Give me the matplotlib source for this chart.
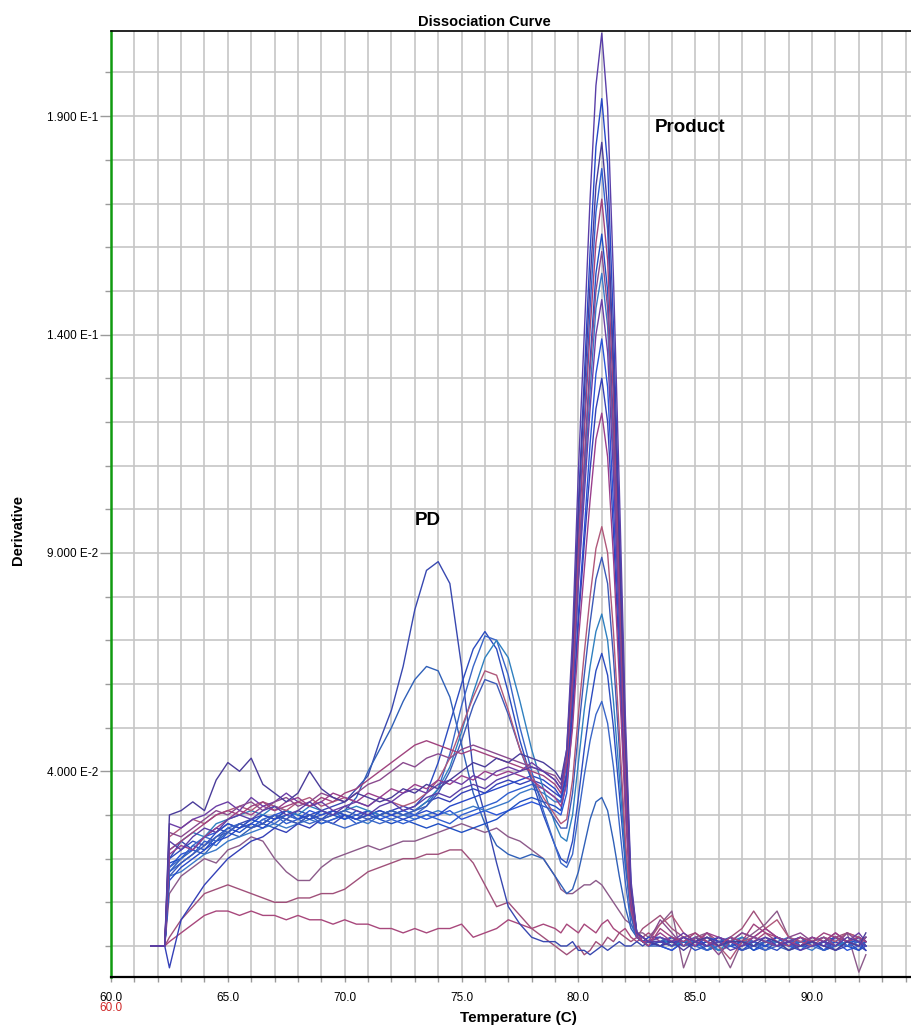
import numpy as np
import matplotlib
matplotlib.use('Agg')
import matplotlib.pyplot as plt
from matplotlib.ticker import FixedLocator, FuncFormatter

plt.rcParams['font.family'] = ['Liberation Sans', 'DejaVu Sans']

# temperature sampling (C): coarse on the shoulders, finer across the melt peak
temps = np.concatenate([[61.7, 62.3],
                        np.arange(62.5, 79.01, 0.5),
                        np.arange(79.25, 83.01, 0.25),
                        np.arange(83.5, 92.01, 0.5),
                        [92.3]])

# derivative readings in units of 1e-3, one list per well
m1 = [0, 0,
      24, 22, 25, 27, 26, 29, 30, 29, 31, 32, 30, 31, 33, 31, 30, 32, 31, 30, 32, 33,
      31, 32, 34, 35, 34, 36, 37, 36, 38, 39, 40, 41, 40, 38,
      36, 45, 71, 109, 140, 171, 197, 209, 192, 153, 105, 54, 15, 3, 2, 1,
      1, 0, 2, 1, 0, 1, -1, 0, 1, 2, 0, 1, -1, 0, 1, 0, 2, 1, 0]
m2 = [0, 0,
      15, 18, 20, 22, 24, 25, 27, 28, 27, 29, 30, 29, 30, 29, 31, 30, 29, 30, 31, 30,
      29, 30, 31, 30, 32, 33, 34, 35, 36, 37, 38, 39, 38, 36,
      34, 42, 66, 101, 130, 159, 183, 194, 179, 142, 97, 50, 14, 3, 1, 2,
      2, 1, 1, 0, 2, 1, 0, -1, 1, 0, 2, 1, 0, 1, -1, 1, 0, 2, 1]
m3 = [0, 0,
      30, 31, 33, 31, 38, 42, 40, 43, 37, 35, 33, 35, 40, 36, 34, 33, 35, 34, 33, 34,
      36, 35, 37, 36, 38, 40, 42, 41, 43, 42, 44, 43, 42, 40,
      38, 45, 67, 99, 126, 152, 174, 184, 169, 134, 92, 48, 13, 3, 2, 1,
      0, 1, -1, 1, 2, 0, 1, 1, 0, 2, 1, -1, 0, 1, 0, -1, 1, 0, 3]
m4 = [0, 0,
      17, 19, 21, 24, 23, 26, 28, 27, 29, 30, 28, 29, 30, 28, 29, 30, 28, 29, 30, 29,
      28, 29, 30, 29, 28, 30, 31, 32, 33, 35, 36, 37, 36, 34,
      33, 40, 62, 94, 120, 146, 168, 178, 164, 130, 89, 46, 12, 2, 1, 1,
      1, 2, 0, 1, -1, 0, 2, 1, 0, 1, 2, 0, 1, 1, -1, 0, 1, 2, 0]
m5 = [0, 0,
      22, 24, 26, 28, 30, 31, 30, 32, 33, 31, 32, 33, 32, 34, 33, 35, 36, 38, 40, 42,
      44, 46, 47, 46, 45, 44, 45, 44, 43, 42, 41, 40, 39, 37,
      35, 42, 62, 92, 117, 141, 161, 171, 157, 125, 86, 44, 12, 3, 1, 0,
      4, 2, 1, 3, 1, 0, 2, 1, 5, 3, 1, 0, 2, 1, 3, 2, 1, 2, 1]
m6 = [0, 0,
      19, 20, 23, 22, 25, 27, 26, 28, 30, 29, 31, 30, 29, 31, 30, 29, 31, 30, 29, 28,
      29, 28, 27, 28, 27, 26, 27, 28, 29, 31, 33, 34, 33, 32,
      31, 38, 57, 86, 110, 134, 154, 163, 150, 119, 82, 42, 11, 2, 1, 1,
      0, 2, 1, 0, 1, 2, 0, 1, -1, 1, 0, 2, 1, 0, 1, 2, 0, -1, 1]
m7 = [0, 0,
      26, 25, 27, 29, 31, 30, 32, 33, 31, 33, 34, 32, 33, 35, 34, 33, 35, 37, 38, 40,
      42, 41, 43, 44, 43, 45, 46, 45, 44, 43, 42, 41, 40, 39,
      37, 43, 61, 88, 110, 132, 150, 159, 146, 116, 80, 41, 11, 3, 2, 1,
      6, 3, 0, 2, 1, -2, 1, 3, 2, 1, 0, 2, 3, 1, 2, 0, 3, 1, 2]
m8 = [0, 0,
      16, 17, 19, 21, 22, 24, 25, 26, 27, 28, 27, 28, 29, 28, 29, 30, 29, 28, 30, 31,
      30, 29, 30, 31, 30, 31, 32, 31, 32, 33, 35, 36, 35, 33,
      33, 39, 57, 84, 106, 127, 146, 154, 142, 112, 77, 40, 11, 2, 1, 0,
      1, 0, 1, 2, 1, -1, 0, 1, 1, 0, 1, 2, 0, -1, 1, 0, 1, 1, 2]
m9 = [0, 0,
      28, 27, 29, 30, 32, 33, 31, 34, 32, 33, 35, 33, 32, 33, 31, 32, 33, 32, 34, 33,
      35, 36, 35, 37, 38, 37, 39, 38, 40, 41, 40, 42, 40, 38,
      36, 42, 58, 83, 103, 123, 140, 148, 136, 108, 74, 38, 10, 3, 2, 1,
      2, 1, 3, 1, 0, 2, 1, 3, 2, 1, 0, 1, 2, 1, 0, 2, 1, 3, 1]
m10 = [0, 0,
       18, 21, 22, 25, 26, 28, 27, 29, 28, 30, 31, 29, 31, 30, 31, 29, 30, 31, 29, 30,
       31, 30, 29, 30, 31, 29, 30, 31, 30, 31, 32, 33, 32, 31,
       30, 35, 52, 76, 95, 115, 131, 139, 128, 101, 70, 36, 10, 2, 1, 1,
       0, -1, 1, 0, 2, 1, 0, 1, -1, 0, 1, 0, -1, 1, 0, 1, -1, 0, 1]
m11 = [0, 0,
       -5, 6, 10, 14, 17, 20, 22, 24, 25, 27, 26, 28, 27, 29, 28, 30, 29, 31, 30, 31,
       32, 31, 33, 34, 33, 35, 36, 35, 37, 38, 37, 38, 37, 35,
       34, 39, 53, 74, 92, 109, 123, 130, 120, 95, 65, 34, 9, 2, 1, 0,
       1, 1, 0, 2, 0, 1, 1, -1, 0, 1, 2, 1, 0, 0, 1, -1, 0, 1, -1]
m12 = [0, 0,
       21, 23, 22, 25, 27, 29, 31, 30, 32, 31, 33, 34, 32, 33, 35, 34, 33, 35, 34, 36,
       35, 37, 36, 38, 37, 39, 38, 40, 39, 40, 39, 38, 36, 34,
       32, 37, 50, 70, 86, 102, 116, 122, 112, 89, 61, 32, 9, 2, 1, 1,
       3, 1, 2, 0, 3, 2, 1, 0, 2, 4, 2, 1, 0, 2, 1, 3, 1, 0, 2]

# wells with a primer-dimer shoulder near 76 C
pd76a = [0, 0,
         20, 22, 24, 23, 26, 28, 27, 29, 30, 29, 31, 30, 29, 30, 31, 30, 29, 30, 31, 30, 31,
         32, 35, 42, 51, 60, 68, 72, 68, 58, 47, 38, 30, 23,
         20, 19, 24, 34, 45, 55, 63, 67, 62, 50, 35, 19, 7, 2, 1, 1,
         1, 0, 1, -1, 0, 2, 1, 0, 1, 0, -1, 1, 0, 2, 1, 0, 1, -1, 0]
pd76b = [0, 0,
         18, 20, 23, 25, 24, 27, 28, 27, 29, 28, 30, 29, 28, 29, 28, 27, 28, 29, 28, 29, 30,
         30, 32, 36, 44, 55, 64, 71, 70, 62, 50, 40, 31, 23,
         19, 18, 21, 30, 39, 47, 53, 56, 51, 41, 28, 15, 5, 2, 1, 0,
         0, 1, 2, 0, -1, 1, 0, 2, 1, -1, 0, 1, 1, 0, -1, 2, 0, 1, 0]
pd76c = [0, 0,
         22, 24, 26, 25, 28, 29, 30, 31, 30, 32, 31, 30, 32, 31, 30, 31, 32, 31, 30, 31, 30,
         31, 33, 36, 41, 49, 58, 66, 70, 66, 56, 45, 36, 28,
         25, 24, 30, 42, 54, 64, 72, 76, 70, 56, 39, 21, 7, 2, 1, 1,
         2, 0, 1, 1, 0, -1, 1, 2, 0, 1, 1, -1, 0, 1, 2, 0, 1, 0, 2]
pd76d = [0, 0,
         25, 27, 29, 28, 30, 31, 32, 31, 33, 32, 31, 33, 34, 32, 33, 34, 33, 32, 34, 33, 32,
         33, 35, 38, 43, 50, 57, 63, 62, 54, 45, 39, 34, 30,
         28, 29, 38, 53, 67, 80, 91, 96, 90, 72, 49, 25, 8, 3, 2, 1,
         5, 7, 3, 1, 2, 0, -3, 1, 2, 4, 6, 2, 1, 0, 2, 1, 3, 2, 1]
pd76e = [0, 0,
         16, 19, 21, 23, 25, 26, 28, 27, 28, 30, 29, 28, 30, 29, 30, 31, 30, 29, 30, 31, 30,
         31, 32, 35, 40, 47, 55, 61, 60, 53, 45, 38, 33, 29,
         27, 27, 35, 49, 62, 74, 84, 89, 83, 66, 45, 23, 7, 2, 1, 1,
         1, 2, 0, 1, 0, 1, 2, -1, 0, 1, 0, 1, 2, 0, 1, -1, 1, 2, 0]

# wells dominated by the early (~74 C) primer-dimer peak
pd88 = [0, 0,
        20, 24, 22, 25, 27, 26, 28, 29, 28, 30, 29, 31, 30, 31, 32, 33,
        36, 39, 47, 54, 64, 77, 86, 88, 83, 64, 40, 30, 19, 9, 5, 2, 1, 1,
        0, 0, 1, -1, -1, -2, -1, 0, -1, 0, 1, 0, 0, 1, 0, 1,
        0, -1, 1, 0, 1, -1, 0, 1, 0, -1, 1, 0, 0, 1, -1, 0, 1, 0, -1]
pd65 = [0, 0,
        17, 20, 22, 21, 24, 26, 25, 27, 28, 27, 29, 28, 30, 29, 30, 31,
        34, 40, 45, 50, 56, 61, 64, 63, 57, 46, 35, 28, 23, 21, 20, 21, 20, 16,
        14, 12, 13, 17, 23, 29, 33, 34, 31, 24, 16, 9, 4, 2, 1, 1,
        1, 0, 2, 1, -1, 0, 1, 0, 2, 1, 0, -1, 1, 0, 1, 2, 0, 1, 0]

# low-signal wells
low_a = [0, 0,
         1, 3, 5, 7, 8, 8, 7, 8, 7, 7, 6, 7, 6, 6, 5, 6, 5, 5, 4, 4,
         3, 4, 3, 4, 4, 5, 2, 3, 4, 6, 5, 4, 5, 4,
         3, 5, 4, 3, 5, 4, 3, 5, 6, 4, 3, 4, 2, 1, 2, 3,
         1, 2, 0, 1, 3, 1, 0, 2, 1, 3, 2, 0, 1, 2, 1, 3, 1, 2, 0]
low_b = [0, 0,
         2, 6, 9, 12, 13, 14, 13, 12, 11, 10, 10, 11, 11, 12, 12, 13, 15, 17, 18, 19,
         20, 20, 21, 21, 22, 22, 19, 14, 9, 10, 7, 4, 2, 0,
         -1, -2, -1, 0, -2, -1, 1, 0, 2, 1, 3, 2, 1, 2, 4, 5,
         7, 4, 2, 3, 1, 0, 2, 4, 8, 4, 2, 1, 2, 0, 1, 2, 3, 2, 1]
low_c = [0, 0,
         12, 16, 18, 20, 19, 22, 23, 25, 24, 20, 17, 15, 15, 18, 20, 21, 22, 23, 22, 23,
         24, 24, 25, 26, 27, 28, 27, 26, 27, 25, 24, 22, 20, 16,
         13, 12, 12, 13, 14, 14, 15, 14, 12, 10, 8, 6, 5, 3, 3, 2,
         5, 8, -5, 2, 3, 0, -5, 1, 3, 5, 8, 2, 0, 1, 2, 1, 3, -6, -2]

wells = [
    (low_a, '#a8487c'), (low_b, '#a0507a'), (low_c, '#8c5a8a'),
    (pd88, '#3848b0'), (pd65, '#3060b8'),
    (m10, '#2a55d8'), (m8, '#3a78c8'), (m6, '#1f4fc4'), (m4, '#2f5fd0'),
    (m11, '#3440b8'), (m2, '#2748c8'),
    (pd76a, '#2c4cc0'), (pd76b, '#3a66c8'), (pd76c, '#2f80c0'),
    (pd76e, '#3c5ab8'), (pd76d, '#b0587a'),
    (m12, '#9a3f8c'), (m9, '#6b3ea6'), (m7, '#8a4a8e'), (m5, '#a0437e'),
    (m3, '#4a3c9a'), (m1, '#5a3fa8'),
]

y_labeled = [0.04, 0.09, 0.14, 0.19]


def sci_label(v, pos=None):
    exp = int(np.floor(np.log10(abs(v)) + 1e-9))
    return f"{v / 10 ** exp:.3f} E{exp}"


fig = plt.figure(figsize=(9.12, 10.26), dpi=100)
ax = fig.add_axes([111 / 912, 49 / 1026, 801 / 912, 946 / 1026])

for vals, col in wells:
    ax.plot(temps, np.array(vals) * 1e-3, color=col, lw=1.0)

ax.set_xlim(60, 60 + 801 / 23.37)
ax.set_ylim(-0.0071, 0.2095)

# grid every 1 C and every 0.01
ax.xaxis.set_major_locator(FixedLocator(np.arange(60, 95, 1)))
ax.xaxis.set_major_formatter(FuncFormatter(
    lambda v, p: f"{v:.1f}" if (round(v) % 5 == 0 and v <= 90) else ""))
ax.yaxis.set_major_locator(FixedLocator(y_labeled))
ax.yaxis.set_minor_locator(FixedLocator(np.arange(0, 0.2001, 0.01)))
ax.yaxis.set_major_formatter(FuncFormatter(sci_label))

ax.grid(which='both', color='#c6c6c6', lw=1.2)
ax.set_axisbelow(True)

ax.tick_params(axis='x', length=3.6, width=1, color='#9a9a9a', pad=7, labelsize=8.5)
ax.tick_params(axis='y', which='major', length=8, width=1, color='#9a9a9a', pad=1, labelsize=8.5)
ax.tick_params(axis='y', which='minor', length=4.3, width=1, color='#9a9a9a')

ax.spines['right'].set_visible(False)
ax.spines['left'].set_color('#109a10')
ax.spines['left'].set_linewidth(1.8)
ax.spines['bottom'].set_linewidth(1.6)
ax.spines['top'].set_linewidth(1.2)

ax.text(73.56, 0.0975, 'PD', fontsize=13.5, fontweight='bold', ha='center', va='center')
ax.text(84.78, 0.1873, 'Product', fontsize=13.5, fontweight='bold', ha='center', va='center')

fig.text(484 / 912, 1 - 22 / 1026, 'Dissociation Curve', fontsize=10.5, fontweight='bold',
         ha='center', va='center')
fig.text(18 / 912, 1 - 530 / 1026, 'Derivative', fontsize=10.5, fontweight='bold',
         rotation=90, ha='center', va='center')
fig.text(518 / 912, 1 - 1018 / 1026, 'Temperature (C)', fontsize=11, fontweight='bold',
         ha='center', va='center')
fig.text(111 / 912, 1 - 1008 / 1026, '60.0', fontsize=8.5, color='#d02828',
         ha='center', va='center')

fig.savefig('out.png', dpi=100)
